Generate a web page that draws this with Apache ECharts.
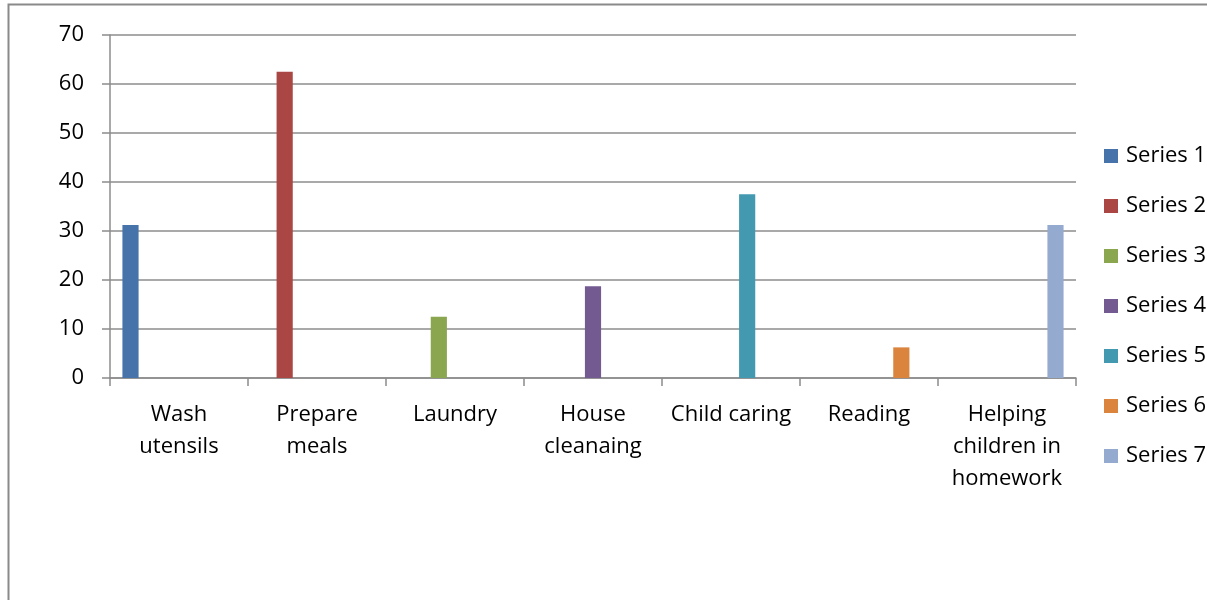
<!DOCTYPE html>
<html>
<head>
<meta charset="utf-8">
<script src="https://cdn.jsdelivr.net/npm/echarts@6/dist/echarts.min.js"></script>
<style>
html, body { margin: 0; padding: 0; background: #fff; }
#main { width: 1207px; height: 600px; }
</style>
</head>
<body>
<div id="main"></div>
<script>
// categories and values
var categories = ['Wash\nutensils', 'Prepare\nmeals', 'Laundry', 'House\ncleanaing', 'Child caring', 'Reading', 'Helping\nchildren in\nhomework'];
var seriesNames = ['Series 1', 'Series 2', 'Series 3', 'Series 4', 'Series 5', 'Series 6', 'Series 7'];
var values = [31.25, 62.5, 12.5, 18.75, 37.5, 6.25, 31.25];
var colorList = ['#4674AA', '#AA4643', '#8AA64F', '#735A91', '#4299B0', '#DB843D', '#94AACF'];
var yTicks = [0, 10, 20, 30, 40, 50, 60, 70];

var fontName = 'Open Sans';
var chart = echarts.init(document.getElementById('main'));

// each series only has a value in its own category
var series = seriesNames.map(function (name, i) {
	var data = categories.map(function (c, j) { return j === i ? values[i] : 0; });
	return {
		name: name,
		type: 'bar',
		data: data,
		barGap: 0,
		barCategoryGap: '18%',
		itemStyle: { color: colorList[i] }
	};
});

var option = {
	animation: false,
	color: colorList,
	textStyle: { fontFamily: fontName },
	graphic: [{
		type: 'rect',
		shape: { x: 8.5, y: 4.5, width: 1400, height: 800 },
		style: { fill: 'none', stroke: '#8a8a8a', lineWidth: 2 },
		silent: true
	}],
	legend: {
		orient: 'vertical',
		left: 1104,
		top: 142,
		padding: 0,
		icon: 'rect',
		itemWidth: 14,
		itemHeight: 14,
		itemGap: 22,
		textStyle: { color: '#000', fontSize: 22, fontFamily: fontName, lineHeight: 28, padding: [0, 0, 0, 3] },
		data: seriesNames
	},
	grid: {
		left: 110,
		top: 35,
		width: 966,
		height: 343,
		containLabel: false
	},
	xAxis: {
		type: 'category',
		data: categories,
		boundaryGap: true,
		axisLine: { lineStyle: { color: '#8c8c8c', width: 1.5 } },
		axisTick: { show: true, length: 8, lineStyle: { color: '#8c8c8c', width: 1.5 } },
		axisLabel: { interval: 0, margin: 21, color: '#000', fontSize: 22, lineHeight: 32, fontFamily: fontName }
	},
	yAxis: {
		type: 'value',
		min: yTicks[0],
		max: yTicks[yTicks.length - 1],
		interval: 10,
		axisLine: { show: true, lineStyle: { color: '#8c8c8c', width: 1.5 } },
		axisTick: { show: true, length: 8, lineStyle: { color: '#8c8c8c', width: 1.5 } },
		axisLabel: { margin: 26, color: '#000', fontSize: 22, fontFamily: fontName },
		splitLine: { show: true, lineStyle: { color: '#8c8c8c', width: 1.5 } }
	},
	series: series
};
chart.setOption(option);
</script>
</body>
</html>
